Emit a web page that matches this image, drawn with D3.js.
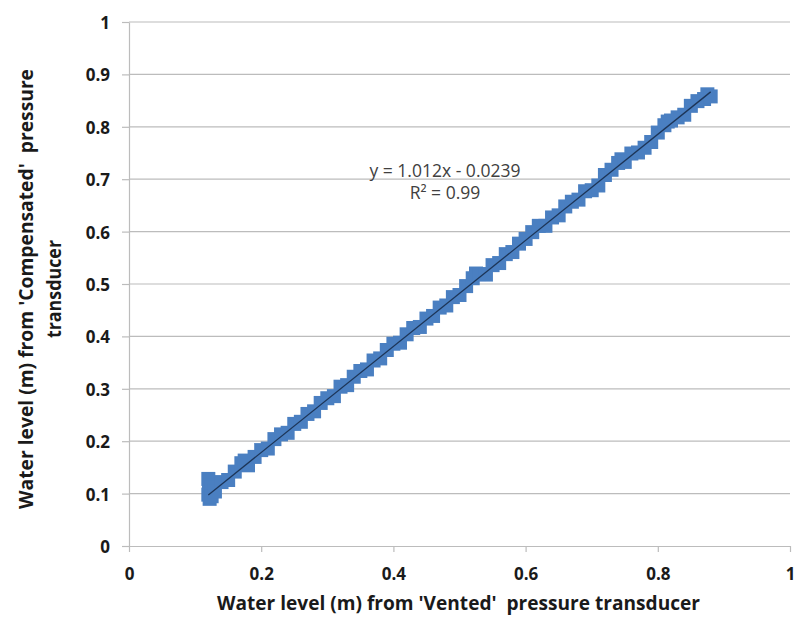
<!DOCTYPE html>
<html>
<head>
<meta charset="utf-8">
<script src="https://cdn.jsdelivr.net/npm/d3@7"></script>
<style>
    body { margin: 0; background: #fff; }
    svg { display: block; }
    text { white-space: pre; }
</style>
</head>
<body>
<div class="visualizer"></div>
<script>
// Data
const ventedLevel = [
    0.120, 0.120, 0.121, 0.122, 0.125, 0.125, 0.130, 0.140, 0.150, 0.160,
    0.170, 0.175, 0.180, 0.190, 0.200, 0.210, 0.220, 0.230, 0.240, 0.250,
    0.260, 0.270, 0.280, 0.290, 0.300, 0.310, 0.320, 0.330, 0.340, 0.350,
    0.360, 0.370, 0.380, 0.390, 0.400, 0.410, 0.420, 0.430, 0.440, 0.450,
    0.460, 0.470, 0.480, 0.490, 0.500, 0.510, 0.520, 0.525, 0.530, 0.540,
    0.550, 0.560, 0.570, 0.580, 0.590, 0.600, 0.610, 0.620, 0.630, 0.640,
    0.650, 0.660, 0.670, 0.680, 0.690, 0.700, 0.710, 0.720, 0.730, 0.740,
    0.745, 0.750, 0.760, 0.770, 0.780, 0.790, 0.800, 0.810, 0.815, 0.820,
    0.830, 0.840, 0.850, 0.860, 0.870, 0.875, 0.880
];
const compensatedLevel = [
    0.098, 0.128, 0.115, 0.090, 0.112, 0.095, 0.104, 0.122, 0.126, 0.142,
    0.158, 0.163, 0.154, 0.170, 0.183, 0.186, 0.204, 0.213, 0.216, 0.233,
    0.237, 0.252, 0.257, 0.273, 0.282, 0.286, 0.304, 0.307, 0.323, 0.334,
    0.337, 0.354, 0.358, 0.374, 0.386, 0.388, 0.404, 0.416, 0.418, 0.434,
    0.439, 0.455, 0.459, 0.475, 0.479, 0.496, 0.511, 0.520, 0.519, 0.518,
    0.536, 0.540, 0.557, 0.561, 0.577, 0.586, 0.599, 0.611, 0.611, 0.627,
    0.631, 0.648, 0.657, 0.661, 0.677, 0.679, 0.688, 0.708, 0.718, 0.731,
    0.738, 0.733, 0.749, 0.751, 0.760, 0.771, 0.789, 0.803, 0.810, 0.812,
    0.818, 0.823, 0.840, 0.849, 0.853, 0.862, 0.858
];
const trendSlope = 1.012;
const trendIntercept = -0.0239;
const trendLabels = ["y = 1.012x - 0.0239", "R\u00B2 = 0.99"];
const xTicks = [0, 0.2, 0.4, 0.6, 0.8, 1];
const yTicks = [0, 0.1, 0.2, 0.3, 0.4, 0.5, 0.6, 0.7, 0.8, 0.9, 1];
const xTitle = "Water level (m) from 'Vented'  pressure transducer";
const yTitle = ["Water level (m) from 'Compensated'  pressure", "transducer"];

// SVG properties
const width = 795,
    height = 617,
    plotLeft = 129,
    plotRight = 790,
    plotTop = 22,
    plotBottom = 546;
const gridColor = "#bcbcbc";
const labelFont = "'Open Sans', sans-serif";

const svg = d3.select(".visualizer")
    .append("svg")
    .attr("width", width)
    .attr("height", height);

const xScale = d3.scaleLinear().domain([0, 1]).range([plotLeft, plotRight]);
const yScale = d3.scaleLinear().domain([0, 1]).range([plotBottom, plotTop]);

// gridlines
svg.append("g")
    .selectAll("line")
    .data(yTicks.filter(t => t > 0))
    .enter()
    .append("line")
    .attr("x1", plotLeft)
    .attr("x2", plotRight)
    .attr("y1", d => yScale(d))
    .attr("y2", d => yScale(d))
    .attr("stroke", gridColor)
    .attr("stroke-width", 1.2);

// y-axis
const yAxis = d3.axisLeft(yScale)
    .tickValues(yTicks)
    .tickFormat(d3.format("~g"))
    .tickSizeInner(7)
    .tickSizeOuter(0)
    .tickPadding(12);
const yAxisG = svg.append("g")
    .attr("transform", `translate(${ plotLeft }, 0)`)
    .call(yAxis);

// x-axis
const xAxis = d3.axisBottom(xScale)
    .tickValues(xTicks)
    .tickFormat(d3.format("~g"))
    .tickSizeInner(6)
    .tickSizeOuter(0)
    .tickPadding(16);
const xAxisG = svg.append("g")
    .attr("transform", `translate(0, ${ plotBottom })`)
    .call(xAxis);

[xAxisG, yAxisG].forEach(g => {
    g.select(".domain").attr("stroke", gridColor).attr("stroke-width", 1.2);
    g.selectAll(".tick line").attr("stroke", gridColor).attr("stroke-width", 1.2);
    g.selectAll(".tick text")
        .attr("fill", "#1a1a1a")
        .style("font-family", labelFont)
        .style("font-weight", "bold")
        .style("font-size", "17px");
});
yAxisG.selectAll(".tick text").attr("dy", "0.38em");
xAxisG.selectAll(".tick text").attr("dy", "0.71em");

// points
const points = ventedLevel.map((x, i) => [x, compensatedLevel[i]]);
svg.append("g")
    .selectAll("path")
    .data(points)
    .enter()
    .append("path")
    .attr("d", d3.symbol(d3.symbolSquare, 196))
    .attr("transform", d => `translate(${ xScale(d[0]) }, ${ yScale(d[1]) })`)
    .attr("fill", "#4a7fc1");

// trendline
const xMin = d3.min(ventedLevel), xMax = d3.max(ventedLevel);
svg.append("line")
    .attr("x1", xScale(xMin))
    .attr("y1", yScale(trendSlope * xMin + trendIntercept))
    .attr("x2", xScale(xMax))
    .attr("y2", yScale(trendSlope * xMax + trendIntercept))
    .attr("stroke", "#1d3557")
    .attr("stroke-width", 1.3);

// trendline label
svg.append("g")
    .selectAll("text")
    .data(trendLabels)
    .enter()
    .append("text")
    .attr("x", 445)
    .attr("y", (d, i) => 177 + i * 22)
    .attr("text-anchor", "middle")
    .attr("fill", "#404040")
    .style("font-family", labelFont)
    .style("font-size", "17.5px")
    .text(d => d);

// axis titles
svg.append("text")
    .attr("x", 458.5)
    .attr("y", 610)
    .attr("text-anchor", "middle")
    .attr("textLength", 483)
    .attr("lengthAdjust", "spacingAndGlyphs")
    .attr("fill", "#1a1a1a")
    .style("font-family", labelFont)
    .style("font-weight", "bold")
    .style("font-size", "19.5px")
    .text(xTitle);

svg.append("g")
    .selectAll("text")
    .data(yTitle)
    .enter()
    .append("text")
    .attr("transform", (d, i) => `translate(${ 33 + i * 28 }, 289) rotate(-90)`)
    .attr("text-anchor", "middle")
    .attr("textLength", (d, i) => i === 0 ? 440 : 98)
    .attr("lengthAdjust", "spacingAndGlyphs")
    .attr("fill", "#1a1a1a")
    .style("font-family", labelFont)
    .style("font-weight", "bold")
    .style("font-size", "19.5px")
    .text(d => d);
</script>
</body>
</html>
